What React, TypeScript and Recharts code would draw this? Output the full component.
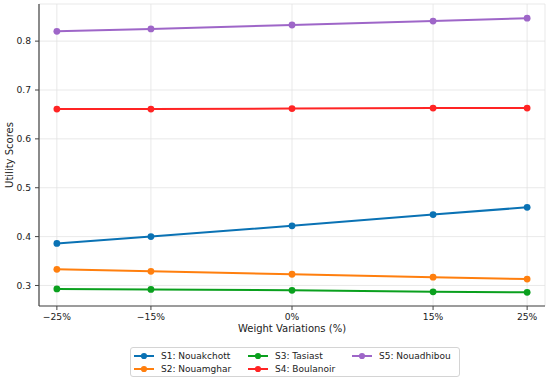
// @ts-nocheck
import React from 'react';
import { LineChart, Line, XAxis, YAxis, CartesianGrid, Label } from 'recharts';

const FONT = '"DejaVu Sans", Verdana, sans-serif';

// weight variation (%) on the x axis
const VARIATIONS = [-25, -15, 0, 15, 25];
const Y_TICKS = [0.3, 0.4, 0.5, 0.6, 0.7, 0.8];

const S1 = [0.386, 0.4, 0.422, 0.445, 0.46];
const S2 = [0.333, 0.329, 0.323, 0.317, 0.313];
const S3 = [0.293, 0.292, 0.29, 0.287, 0.286];
const S4 = [0.661, 0.661, 0.662, 0.663, 0.663];
const S5 = [0.82, 0.825, 0.833, 0.841, 0.847];

const SERIES = [
  { key: 's1', name: 'S1: Nouakchott', color: '#0a72b4', values: S1 },
  { key: 's2', name: 'S2: Nouamghar', color: '#ff7f0e', values: S2 },
  { key: 's3', name: 'S3: Tasiast', color: '#0aa01e', values: S3 },
  { key: 's4', name: 'S4: Boulanoir', color: '#ff2424', values: S4 },
  { key: 's5', name: 'S5: Nouadhibou', color: '#9e66c8', values: S5 },
];

const data = VARIATIONS.map((v, i) => {
  const row: any = { x: v };
  SERIES.forEach((s) => (row[s.key] = s.values[i]));
  return row;
});

const fmtPct = (v) => (v < 0 ? `\u2212${-v}%` : `${v}%`);
const TICK = { fontSize: 9.2, fill: '#222', fontFamily: FONT };

function YLabel({ viewBox }) {
  const cx = 9;
  const cy = viewBox.y + viewBox.height / 2;
  return (
    <text
      x={cx}
      y={cy}
      transform={`rotate(-90 ${cx} ${cy})`}
      textAnchor="middle"
      dominantBaseline="central"
      fontSize={10}
      fontFamily={FONT}
      fill="#222"
    >
      Utility Scores
    </text>
  );
}

function Legend() {
  // column-major order, like matplotlib ncol=3
  const cols = [[0, 1], [2, 3], [4]];
  const widths = [114, 104, 100];
  return (
    <div
      style={{
        position: 'absolute',
        left: 130,
        top: 347,
        width: 330,
        height: 30,
        border: '1px solid #d4d4d4',
        borderRadius: 3,
        boxSizing: 'border-box',
        display: 'flex',
        padding: '1px 0 0 3px',
        fontFamily: FONT,
        fontSize: 9,
        color: '#222',
        background: '#fff',
      }}
    >
      {cols.map((c, ci) => (
        <div key={ci} style={{ width: widths[ci] }}>
          {c.map((si) => {
            const s = SERIES[si];
            return (
              <div key={s.key} style={{ display: 'flex', alignItems: 'center', height: 13 }}>
                <svg width={20} height={10} style={{ marginRight: 7, flex: 'none' }}>
                  <line x1={0} y1={5} x2={20} y2={5} stroke={s.color} strokeWidth={2} />
                  <circle cx={10} cy={5} r={3.1} fill={s.color} />
                </svg>
                <span style={{ whiteSpace: 'nowrap' }}>{s.name}</span>
              </div>
            );
          })}
        </div>
      ))}
    </div>
  );
}

export default function App() {
  return (
    <div style={{ position: 'absolute', left: 0, top: 0, width: 550, height: 381, background: '#fff' }}>
      <LineChart
        width={550}
        height={381}
        data={data}
        margin={{ top: 4, right: 5, left: 0, bottom: 0 }}
      >
        <CartesianGrid stroke="#e3e3e3" strokeWidth={0.8} />
        <XAxis
          dataKey="x"
          type="number"
          domain={[-26.9, 26.9]}
          ticks={VARIATIONS}
          tickFormatter={fmtPct}
          height={75}
          tickSize={4}
          tickMargin={3}
          stroke="#444"
          tick={TICK}
          tickLine={{ stroke: '#444' }}
          axisLine={{ stroke: '#444', strokeWidth: 1.2 }}
          interval={0}
        >
          <Label
            value="Weight Variations (%)"
            position="insideTop"
            offset={19}
            style={{ fontSize: 10, fill: '#222', fontFamily: FONT }}
          />
        </XAxis>
        <XAxis
          xAxisId="top"
          dataKey="x"
          type="number"
          orientation="top"
          domain={[-26.9, 26.9]}
          height={0}
          tick={false}
          tickLine={false}
          axisLine={{ stroke: '#444', strokeWidth: 1.2 }}
        />
        <YAxis
          type="number"
          domain={[0.258, 0.876]}
          ticks={Y_TICKS}
          tickFormatter={(v) => v.toFixed(1)}
          width={39}
          tickSize={4}
          tickMargin={4}
          tick={TICK}
          tickLine={{ stroke: '#444' }}
          axisLine={{ stroke: '#444', strokeWidth: 1.2 }}
          allowDataOverflow
        >
          <Label content={YLabel} />
        </YAxis>
        <YAxis
          yAxisId="right"
          orientation="right"
          type="number"
          domain={[0.258, 0.876]}
          width={0}
          tick={false}
          tickLine={false}
          axisLine={{ stroke: '#444', strokeWidth: 1.2 }}
        />
        {SERIES.map((s) => (
          <Line
            key={s.key}
            dataKey={s.key}
            name={s.name}
            type="linear"
            stroke={s.color}
            strokeWidth={2}
            dot={{ r: 3.4, fill: s.color, stroke: s.color, strokeWidth: 0 }}
            activeDot={false}
            isAnimationActive={false}
          />
        ))}
      </LineChart>
      <Legend />
    </div>
  );
}
